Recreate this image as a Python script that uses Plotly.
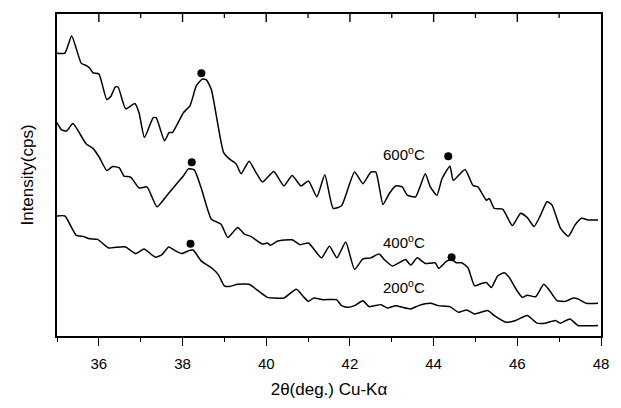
import plotly.graph_objects as go

# 2theta (deg) and intensity (arbitrary, offset-stacked)
x600 = [35.00, 35.19, 35.35, 35.58, 35.70, 35.78, 35.86, 36.00, 36.19, 36.29, 36.39, 36.46, 36.64, 36.86,
        36.96, 37.09, 37.30, 37.37, 37.57, 37.68, 37.76, 38.02, 38.18, 38.33, 38.47, 38.57, 38.69, 38.98,
        39.12, 39.28, 39.40, 39.59, 39.75, 39.91, 40.18, 40.42, 40.62, 40.83, 41.01, 41.21, 41.40, 41.60,
        41.80, 42.11, 42.31, 42.50, 42.62, 42.79, 42.94, 43.09, 43.25, 43.37, 43.57, 43.80, 43.92, 44.08,
        44.20, 44.39, 44.47, 44.75, 44.94, 45.06, 45.26, 45.33, 45.45, 45.65, 45.88, 46.08, 46.24, 46.40,
        46.55, 46.71, 46.83, 47.03, 47.22, 47.38, 47.54, 47.69, 47.93]
y600 = [285.7, 286, 303.3, 275.7, 273.3, 271, 266, 265, 239, 242.3, 251.7, 251.7, 229.7, 235,
        225.7, 200.7, 220.7, 220.7, 197.3, 205.7, 205.7, 225.7, 233, 253, 259.7, 259, 249, 185.7,
        179, 174, 164, 176.7, 165.7, 155.7, 166.3, 151.7, 162.3, 151.7, 156.7, 140.7, 163, 129,
        131.7, 165.7, 154, 165.7, 165.7, 133, 144, 151.7, 150.7, 142.3, 140.7, 164, 150.7, 142.3,
        159, 171.7, 157.3, 168.3, 152.3, 150.7, 137.3, 139, 129, 128.3, 111.7, 124, 119.7, 110.7,
        121.7, 135.7, 132.3, 109, 100.7, 112.3, 119, 117.3, 117.3]

x400 = [35.00, 35.11, 35.23, 35.38, 35.70, 35.86, 36.01, 36.19, 36.33, 36.49, 36.60, 36.76, 36.96, 37.15,
        37.39, 37.63, 37.86, 38.02, 38.14, 38.28, 38.45, 38.69, 38.92, 39.08, 39.32, 39.48, 39.63, 39.91,
        40.03, 40.10, 40.26, 40.62, 40.81, 41.01, 41.32, 41.51, 41.69, 41.90, 42.11, 42.31, 42.50, 42.70,
        42.82, 43.02, 43.17, 43.33, 43.45, 43.61, 43.72, 43.80, 44.04, 44.12, 44.31, 44.43, 44.55, 44.67,
        44.82, 44.98, 45.14, 45.26, 45.38, 45.53, 45.69, 45.81, 45.97, 46.12, 46.24, 46.44, 46.63, 46.75,
        46.95, 47.14, 47.34, 47.46, 47.65, 47.93]
y400 = [215.7, 208.3, 207.3, 214.7, 194, 189.7, 180.7, 167.3, 171.3, 170, 161.7, 160.7, 149.7, 150.7,
        130.7, 142.3, 154, 161.7, 169, 168, 149, 118, 113, 99.7, 109.7, 103, 100.7, 93,
        94, 91.7, 95.7, 97.3, 92.3, 94, 79, 90.7, 79, 95, 67.3, 78, 79, 83,
        77.3, 70.7, 74, 77.3, 71.7, 79, 75.7, 73.3, 74, 68.3, 75.7, 77.3, 74, 74,
        69, 50.7, 53, 54, 49, 60.7, 64, 59, 47.3, 39, 41.3, 39.7, 52.3, 47.3,
        35.7, 35, 38.3, 37.3, 33, 33]

x200 = [35.00, 35.19, 35.46, 35.62, 35.78, 35.97, 36.23, 36.41, 36.64, 36.88, 37.08, 37.35, 37.51, 37.67,
        37.82, 37.98, 38.18, 38.26, 38.45, 38.69, 38.85, 39.00, 39.12, 39.32, 39.59, 39.79, 40.03, 40.22,
        40.42, 40.72, 40.89, 41.01, 41.13, 41.36, 41.68, 41.80, 41.95, 42.11, 42.31, 42.46, 42.74, 42.90,
        43.09, 43.25, 43.45, 43.64, 43.92, 44.12, 44.39, 44.59, 44.79, 44.98, 45.29, 45.45, 45.73, 45.96,
        46.24, 46.47, 46.67, 46.91, 47.03, 47.26, 47.45, 47.93]
y200 = [121.3, 121.3, 101.7, 100.7, 98.3, 97.7, 89, 89.7, 90, 83.3, 88, 79.7, 82.3, 90,
        86.3, 83.3, 86.7, 86.7, 75.7, 69, 62.3, 50.7, 50, 52.3, 52.3, 46.3, 39, 38.3,
        38.3, 47.3, 39.7, 35, 38.3, 36.7, 36.7, 30.7, 29, 30.7, 35.7, 29.7, 31.7, 28.3,
        30.7, 29, 27.3, 30.7, 33, 30.7, 29.7, 24, 26.3, 22.3, 25.7, 20.7, 14, 15.7,
        20.7, 13, 13, 15.7, 13, 17.3, 10.7, 10.7]

# peak markers (filled dots)
peak_x = [38.45, 44.35, 38.22, 44.43, 38.19]
peak_y = [265.7, 181.7, 175.7, 79.5, 93.3]

# curve labels
label_text = ["600<sup>o</sup>C", "400<sup>o</sup>C", "200<sup>o</sup>C"]
label_x = [43.3, 43.3, 43.3]
label_y = [184, 96, 50]

major_ticks = [36, 38, 40, 42, 44, 46, 48]
major_labels = ["36", "38", "40", "42", "44", "46", "48"]
minor_ticks = [35, 37, 39, 41, 43, 45, 47]

FONT = "Liberation Sans, Arial, sans-serif"
PLOT_H = 408 - 14 - 69  # plot-area height in px, used for inward top tick lengths

fig = go.Figure()
for xs, ys in [(x600, y600), (x400, y400), (x200, y200)]:
    fig.add_trace(go.Scatter(x=xs, y=ys, mode="lines",
                             line=dict(color="black", width=1.5, shape="spline", smoothing=0.5),
                             showlegend=False, hoverinfo="skip"))
fig.add_trace(go.Scatter(x=peak_x, y=peak_y, mode="markers",
                         marker=dict(color="black", size=8), showlegend=False, hoverinfo="skip"))

for t, xx, yy in zip(label_text, label_x, label_y):
    fig.add_annotation(x=xx, y=yy, text=t, showarrow=False,
                       font=dict(family=FONT, size=15, color="black"))

# inward-pointing ticks along the top frame (mirror of the bottom axis ticks)
for tv in major_ticks[:-1]:
    fig.add_shape(type="line", xref="x", yref="paper", x0=tv, x1=tv, y0=1, y1=1 - 8 / PLOT_H,
                  line=dict(color="black", width=1.4), layer="above")
for tv in minor_ticks[1:]:
    fig.add_shape(type="line", xref="x", yref="paper", x0=tv, x1=tv, y0=1, y1=1 - 4 / PLOT_H,
                  line=dict(color="black", width=1.3), layer="above")

fig.update_layout(
    width=621, height=408,
    margin=dict(l=57, r=13, t=14, b=69),
    paper_bgcolor="white", plot_bgcolor="white",
    font=dict(family=FONT, color="black"),
    xaxis=dict(range=[35, 48], tickmode="array", tickvals=major_ticks, ticktext=major_labels,
               ticks="outside", ticklen=8, tickwidth=1.3, tickcolor="black",
               ticklabelstandoff=5,
               minor=dict(tickvals=minor_ticks, ticks="outside", ticklen=4,
                          tickwidth=1.2, tickcolor="black"),
               showline=True, linecolor="black", linewidth=1.5, mirror=True,
               showgrid=False, zeroline=False,
               tickfont=dict(size=15, family=FONT),
               title=dict(text="2θ(deg.) Cu-Kα", font=dict(size=17, family=FONT), standoff=12)),
    yaxis=dict(range=[0, 325.5], showticklabels=False, ticks="",
               showline=True, linecolor="black", linewidth=1.5, mirror=True,
               showgrid=False, zeroline=False,
               title=dict(text="Intensity(cps)", font=dict(size=17, family=FONT), standoff=17)),
)

fig.write_html("out.html")
